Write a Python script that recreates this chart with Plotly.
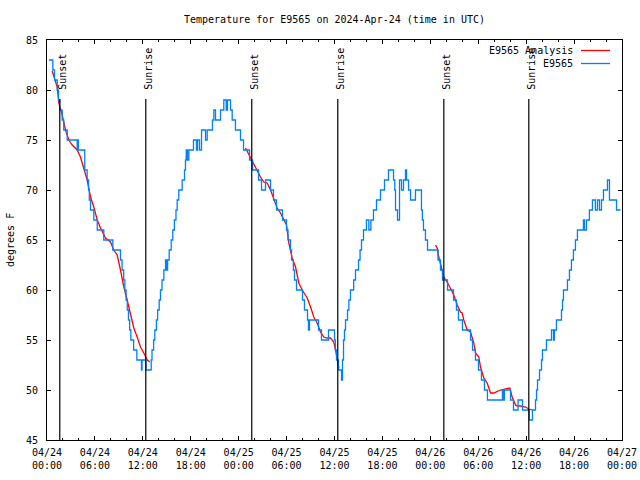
import pandas as pd
import plotly.graph_objects as go

START = pd.Timestamp("2024-04-24 00:00")

# Observed station temperatures (hours since 04/24 00:00 UTC, degrees F), step changes
obs_hours = [0.23, 0.73, 0.94, 1.28, 1.44, 1.60, 1.90, 2.10, 2.53, 3.78, 3.85, 3.92, 4.73, 5.03, 5.20,
             5.30, 5.45, 5.86, 6.29, 7.11, 8.24, 9.20, 9.40, 9.60, 9.75, 9.90, 10.05, 10.20, 10.35,
             10.50, 10.85, 11.25, 11.83, 11.90, 12.40, 13.05, 13.15, 13.35, 13.50, 13.70, 13.85,
             14.05, 14.21, 14.40, 14.63, 14.84, 15.00, 15.10, 15.30, 15.55, 15.75, 15.95, 16.15,
             16.30, 16.50, 16.93, 17.22, 17.34, 17.43, 17.59, 17.76, 18.34, 18.72, 18.85, 19.10,
             19.35, 19.85, 20.06, 20.72, 20.89, 21.10, 21.73, 22.14, 22.44, 22.60, 22.98, 23.19,
             23.60, 24.23, 24.61, 25.36, 25.74, 26.49, 26.86, 27.36, 27.99, 28.36, 28.74, 29.49,
             29.99, 30.18, 30.49, 30.62, 30.85, 30.99, 31.24, 31.99, 32.24, 32.62, 32.74, 32.87,
             34.00, 34.37, 35.25, 36.00, 36.10, 36.25, 36.50, 36.88, 37.00, 37.13, 37.25, 37.38,
             37.63, 37.80, 38.00, 38.40, 38.63, 39.01, 39.20, 39.38, 39.63, 40.00, 40.30, 40.55,
             40.88, 41.26, 41.76, 42.26, 42.76, 43.39, 43.55, 43.64, 43.89, 44.14, 44.39, 44.64,
             44.89, 45.02, 45.27, 45.52, 46.14, 46.89, 47.00, 47.14, 47.39, 47.65, 48.96, 49.27,
             49.52, 50.15, 50.90, 51.27, 51.52, 52.02, 53.03, 53.28, 53.65, 54.03, 54.40, 54.78,
             55.15, 57.03, 57.16, 57.28, 58.04, 58.41, 58.98, 59.54, 60.40, 60.79, 61.17, 61.30,
             61.42, 61.67, 61.92, 62.04, 62.54, 63.17, 63.42, 63.54, 63.79, 64.42, 64.55, 64.67,
             65.17, 65.42, 65.67, 65.92, 66.17, 66.42, 67.17, 67.30, 67.55, 67.92, 68.30, 68.67,
             68.93, 69.18, 69.43, 69.68, 70.18, 70.43, 71.31, 71.81]
obs_temps = [83, 82, 81, 80, 79, 78, 77, 76, 75, 74, 75, 74, 72, 71, 70,
             69, 68, 67, 66, 65, 64, 63, 62, 61, 60, 59, 58, 57, 56,
             55, 54, 53, 52, 53, 52, 53, 54, 55, 56, 57, 58,
             59, 60, 61, 62, 63, 62, 63, 64, 65, 66, 67, 68,
             69, 70, 71, 72, 73, 74, 73, 74, 75, 74, 75, 74,
             76, 75, 76, 77, 78, 77, 78, 79, 78, 79, 78, 77,
             76, 75, 74, 73, 72, 71, 70, 71, 70, 69, 68, 67,
             66, 65, 64, 63, 62, 61, 60, 59, 58, 57, 56, 57,
             56, 55, 56, 55, 54, 53, 52, 51, 53, 55, 56, 57,
             58, 59, 60, 61, 62, 63, 64, 65, 66, 67, 66, 67,
             68, 69, 70, 71, 72, 71, 70, 68, 67, 71, 70, 71,
             72, 71, 70, 69, 70, 68, 67, 66, 65, 64, 63, 62,
             61, 60, 59, 58, 57, 56, 55, 54, 53, 52, 51, 50,
             49, 50, 49, 50, 49, 48, 49, 48, 47, 48, 49, 50,
             51, 52, 53, 54, 55, 56, 55, 56, 57, 58, 59, 60,
             61, 62, 63, 64, 65, 66, 67, 66, 67, 68, 69, 68,
             69, 68, 69, 70, 71, 69, 68, 68]

# Analysis series, three nightly segments (hours since start, degrees F)
ana1_hours = [0.65, 1.28, 1.48, 1.69, 1.90, 2.32, 2.73, 3.16, 3.78, 4.19, 4.61, 5.03, 5.45, 5.86,
              6.29, 6.70, 7.33, 7.95, 8.36, 8.79, 9.20, 9.62, 10.04, 10.46, 10.87, 11.29, 11.71,
              12.12, 12.55, 12.87]
ana1_temps = [81.9, 80.3, 78.7, 78.2, 77.5, 76.0, 75.0, 74.5, 74.0, 73.3, 72.2, 71.0, 69.3, 68.3,
              67.0, 66.2, 65.2, 64.8, 64.0, 63.5, 62.0, 60.3, 59.0, 57.7, 56.2, 55.3, 54.3,
              53.7, 53.0, 52.8]
ana2_hours = [24.86, 25.49, 25.90, 26.32, 26.73, 27.15, 27.57, 27.99, 28.40, 28.82, 29.24, 29.65,
              29.99, 30.28, 30.49, 30.70, 31.12, 31.53, 31.96, 32.58, 33.00, 33.41, 33.83, 34.25,
              34.66, 35.09, 35.50, 35.91, 36.13, 36.34, 36.54]
ana2_temps = [74.2, 73.2, 72.5, 71.8, 71.3, 70.8, 70.7, 70.0, 69.0, 68.2, 67.7, 67.0,
              66.5, 64.7, 64.0, 63.2, 62.3, 60.7, 60.0, 59.2, 58.3, 57.3, 56.7, 55.8,
              55.3, 55.2, 55.2, 54.8, 54.0, 53.2, 52.2]
ana3_hours = [48.65, 48.86, 49.06, 49.27, 49.49, 49.69, 50.11, 50.53, 50.94, 51.37, 51.78, 51.99,
              52.19, 52.62, 53.03, 53.44, 53.66, 54.07, 54.28, 54.70, 55.12, 55.54, 55.95, 56.79,
              57.63, 57.95, 58.25, 58.67, 58.88, 59.29, 59.92, 60.33, 60.75]
ana3_temps = [64.5, 64.2, 63.3, 62.7, 62.0, 61.3, 60.8, 60.2, 59.5, 58.5, 57.8, 57.7,
              57.0, 56.0, 55.8, 54.7, 53.7, 53.3, 52.3, 51.2, 50.7, 49.7, 49.7, 50.0,
              50.2, 50.2, 49.3, 48.5, 48.4, 48.4, 48.3, 48.1, 48.0]

# Sun events (hours since start)
sun_labels = ["Sunset", "Sunrise", "Sunset", "Sunrise", "Sunset", "Sunrise"]
sun_hours = [1.60, 12.37, 25.64, 36.41, 49.69, 60.33]

FONT = "DejaVu Sans Mono"
W, H = 640, 480
L, R, T, B = 47, 18, 40, 40
PW = W - L - R


def to_time(hours):
    return [START + pd.Timedelta(hours=h) for h in hours]


def px_x(page_x):
    """Page pixel x -> paper fraction."""
    return (page_x - L) / PW


ana_x = to_time(ana1_hours) + [None] + to_time(ana2_hours) + [None] + to_time(ana3_hours)
ana_y = ana1_temps + [None] + ana2_temps + [None] + ana3_temps

fig = go.Figure()
fig.add_trace(go.Scatter(x=ana_x, y=ana_y, mode="lines", name="E9565 Analysis",
                         line=dict(color="#ff0000", width=1.3), connectgaps=False))
fig.add_trace(go.Scatter(x=to_time(obs_hours), y=obs_temps, mode="lines", name="E9565",
                         line=dict(color="#0080ff", width=1.3, shape="hv")))

sun_times = to_time(sun_hours)
for lab, t in zip(sun_labels, sun_times):
    fig.add_shape(type="line", xref="x", yref="y", x0=t, x1=t, y0=45, y1=79.1,
                  line=dict(color="black", width=1.2))
    fig.add_annotation(x=t, y=79.8, xref="x", yref="y", text=lab, textangle=-90,
                       showarrow=False, xanchor="center", yanchor="bottom", xshift=2,
                       font=dict(family=FONT, size=10, color="black"))

# Legend (gnuplot style: text right-aligned, sample to the right)
leg = [("E9565 Analysis", "#ff0000", 83.95), ("E9565", "#0080ff", 82.65)]
for txt, col, yy in leg:
    fig.add_annotation(x=px_x(575), y=yy, xref="paper", yref="y", text=txt, showarrow=False,
                       xanchor="right", yanchor="middle",
                       font=dict(family=FONT, size=10, color="black"))
    fig.add_shape(type="line", xref="paper", yref="y", x0=px_x(581), x1=px_x(610),
                  y0=yy, y1=yy, line=dict(color=col, width=1.3))

# Y axis title placed as rotated text left of tick labels
fig.add_annotation(x=px_x(10), y=0.5, xref="paper", yref="paper", text="degrees F",
                   textangle=-90, showarrow=False, xanchor="center", yanchor="middle",
                   font=dict(family=FONT, size=10, color="black"))

fig.update_layout(
    width=W, height=H,
    margin=dict(l=L, r=R, t=T, b=B, autoexpand=False),
    paper_bgcolor="white", plot_bgcolor="white",
    showlegend=False,
    font=dict(family=FONT, size=10, color="black"),
    title=dict(text="Temperature for E9565 on 2024-Apr-24 (time in UTC)",
               x=(L + PW / 2) / W, xanchor="center", y=1 - 19 / H, yanchor="middle",
               font=dict(family=FONT, size=10, color="black")),
)
fig.update_xaxes(
    range=[START, START + pd.Timedelta(hours=72)],
    type="date", dtick=6 * 3600 * 1000, tick0=START,
    tickformat="%m/%d<br>%H:%M", automargin=False, ticklabelstandoff=3,
    ticklabeloverflow="allow",
    ticks="inside", ticklen=4, tickcolor="black", tickwidth=1,
    minor=dict(dtick=2 * 3600 * 1000, ticks="inside", ticklen=2, tickcolor="black", showgrid=False),
    showline=True, linecolor="black", linewidth=1, mirror="ticks",
    showgrid=False, zeroline=False,
    tickfont=dict(family=FONT, size=10, color="black"),
)
fig.update_yaxes(
    range=[45, 85], dtick=5, tick0=45, automargin=False, ticklabelstandoff=6,
    ticks="inside", ticklen=4, tickcolor="black", tickwidth=1,
    showline=True, linecolor="black", linewidth=1, mirror="ticks",
    showgrid=False, zeroline=False,
    tickfont=dict(family=FONT, size=10, color="black"),
)

# Remove the browser's default page margin so the 640x480 figure fills the window
fig.write_html("out.html", config={"displayModeBar": False},
               post_script="document.body.style.margin='0px';document.body.style.overflow='hidden';")
